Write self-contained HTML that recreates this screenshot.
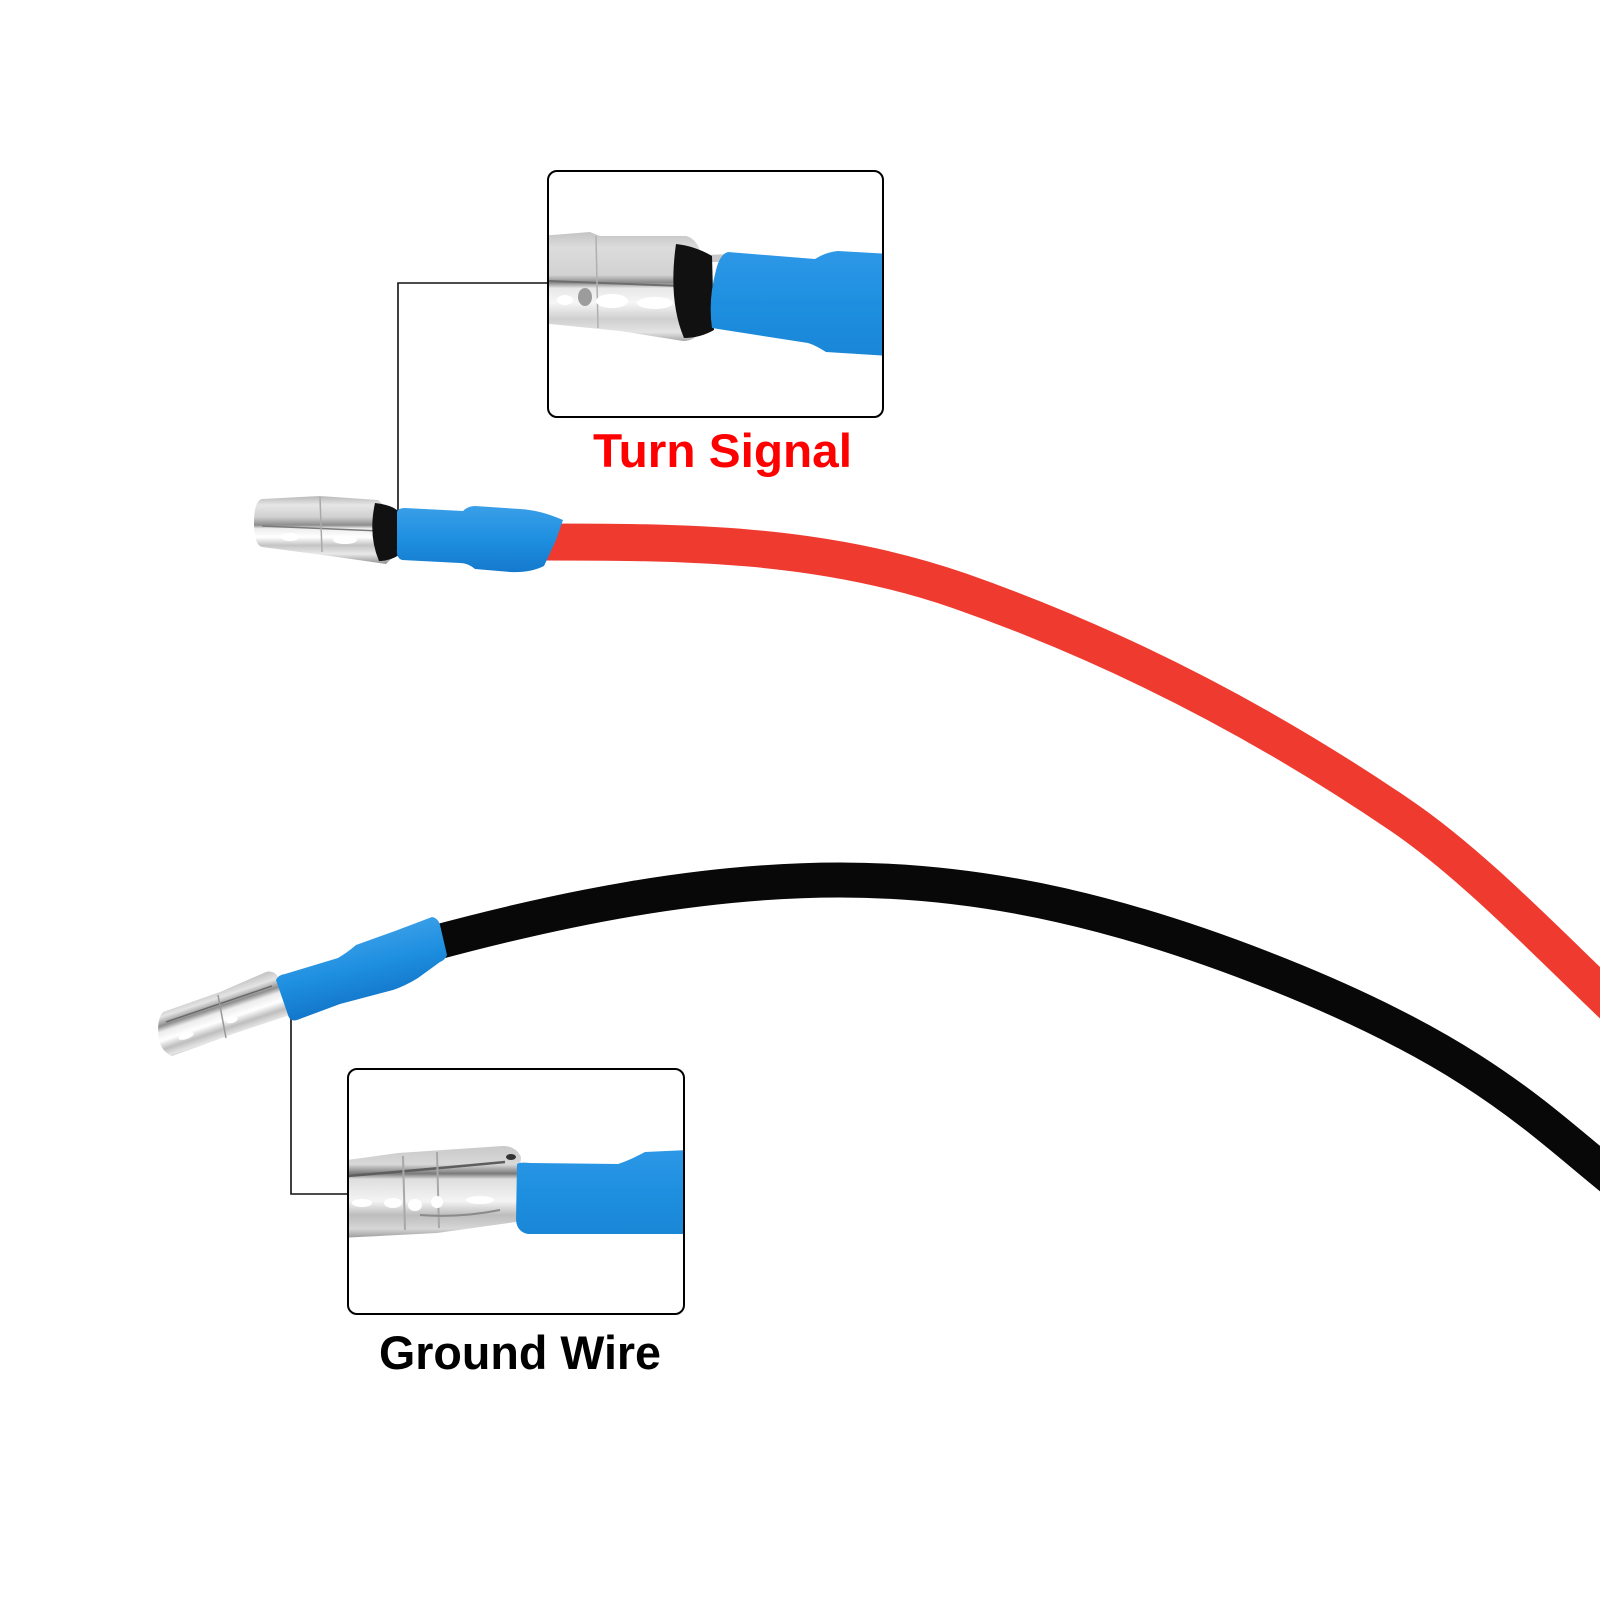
<!DOCTYPE html>
<html>
<head>
<meta charset="utf-8">
<style>
html,body{margin:0;padding:0;background:#fff;width:1600px;height:1600px;overflow:hidden}
svg{display:block}
</style>
</head>
<body>
<svg width="1600" height="1600" viewBox="0 0 1600 1600" xmlns="http://www.w3.org/2000/svg">
<defs>
  <linearGradient id="m1" gradientUnits="userSpaceOnUse" x1="0" y1="497" x2="0" y2="564">
    <stop offset="0" stop-color="#bdbdbd"/>
    <stop offset="0.12" stop-color="#e6e6e6"/>
    <stop offset="0.3" stop-color="#d0d0d0"/>
    <stop offset="0.42" stop-color="#8c8c8c"/>
    <stop offset="0.47" stop-color="#ededed"/>
    <stop offset="0.6" stop-color="#ffffff"/>
    <stop offset="0.72" stop-color="#c4c4c4"/>
    <stop offset="0.85" stop-color="#e9e9e9"/>
    <stop offset="1" stop-color="#8f8f8f"/>
  </linearGradient>
  <linearGradient id="b1" gradientUnits="userSpaceOnUse" x1="0" y1="506" x2="0" y2="573">
    <stop offset="0" stop-color="#3a9fe8"/>
    <stop offset="0.5" stop-color="#1e8fe0"/>
    <stop offset="1" stop-color="#1479cc"/>
  </linearGradient>
  <linearGradient id="m2" gradientUnits="userSpaceOnUse" x1="0" y1="231" x2="0" y2="341">
    <stop offset="0" stop-color="#c2c2c2"/>
    <stop offset="0.15" stop-color="#dcdcdc"/>
    <stop offset="0.4" stop-color="#d2d2d2"/>
    <stop offset="0.47" stop-color="#8a8a8a"/>
    <stop offset="0.52" stop-color="#e8e8e8"/>
    <stop offset="0.65" stop-color="#f6f6f6"/>
    <stop offset="0.8" stop-color="#cfcfcf"/>
    <stop offset="0.92" stop-color="#e4e4e4"/>
    <stop offset="1" stop-color="#a8a8a8"/>
  </linearGradient>
  <linearGradient id="b2" gradientUnits="userSpaceOnUse" x1="0" y1="251" x2="0" y2="356">
    <stop offset="0" stop-color="#2d98e6"/>
    <stop offset="0.5" stop-color="#1e8fe0"/>
    <stop offset="1" stop-color="#1a86d6"/>
  </linearGradient>
  <linearGradient id="m3" gradientUnits="userSpaceOnUse" x1="0" y1="1146" x2="0" y2="1238">
    <stop offset="0" stop-color="#c9c9c9"/>
    <stop offset="0.2" stop-color="#d8d8d8"/>
    <stop offset="0.3" stop-color="#7a7a7a"/>
    <stop offset="0.36" stop-color="#dedede"/>
    <stop offset="0.6" stop-color="#f4f4f4"/>
    <stop offset="0.75" stop-color="#bdbdbd"/>
    <stop offset="0.9" stop-color="#d6d6d6"/>
    <stop offset="1" stop-color="#9a9a9a"/>
  </linearGradient>
  <linearGradient id="b3" gradientUnits="userSpaceOnUse" x1="0" y1="1150" x2="0" y2="1234">
    <stop offset="0" stop-color="#2d98e6"/>
    <stop offset="0.5" stop-color="#1e8fe0"/>
    <stop offset="1" stop-color="#1a86d6"/>
  </linearGradient>
  <linearGradient id="m4" gradientUnits="userSpaceOnUse" x1="212" y1="988" x2="230" y2="1042">
    <stop offset="0" stop-color="#bcbcbc"/>
    <stop offset="0.2" stop-color="#e4e4e4"/>
    <stop offset="0.35" stop-color="#8e8e8e"/>
    <stop offset="0.45" stop-color="#ececec"/>
    <stop offset="0.6" stop-color="#ffffff"/>
    <stop offset="0.75" stop-color="#bebebe"/>
    <stop offset="0.88" stop-color="#e6e6e6"/>
    <stop offset="1" stop-color="#8a8a8a"/>
  </linearGradient>
  <linearGradient id="b4" gradientUnits="userSpaceOnUse" x1="350" y1="935" x2="366" y2="1000">
    <stop offset="0" stop-color="#3a9fe8"/>
    <stop offset="0.5" stop-color="#1e8fe0"/>
    <stop offset="1" stop-color="#1479cc"/>
  </linearGradient>
  <clipPath id="c1"><rect x="549" y="172" width="333" height="244" rx="8"/></clipPath>
  <clipPath id="c2"><rect x="349" y="1070" width="334" height="243" rx="8"/></clipPath>
</defs>

<!-- Red wire -->
<path d="M 540,542 C 680,542 820,542 960,591 C 1107,642.5 1253,715 1400,815 C 1473,864.6 1547,942.6 1620,1012"
  fill="none" stroke="#ef3a2f" stroke-width="37" stroke-linejoin="round"/>

<!-- Black wire -->
<path d="M 430,944 C 560,908.9 700,880 840,880 C 990,880 1130,915 1280,975 C 1480,1055 1540,1121 1620,1185"
  fill="none" stroke="#080808" stroke-width="35" stroke-linejoin="round"/>

<!-- Top connector (turn signal) -->
<polyline points="398,512 398,283 548,283" fill="none" stroke="#111" stroke-width="1.6"/>
<path d="M 262,499 L 320,496 L 378,500 L 392,512 L 392,558 L 386,564 L 330,556 L 262,547 Q 254,545 254,523 Q 254,501 262,499 Z" fill="url(#m1)"/>
<path d="M 262,526 L 380,531" stroke="#7a7a7a" stroke-width="1.5" fill="none"/>
<path d="M 320,497 L 322,552" stroke="#aaa" stroke-width="1.5" fill="none"/>
<ellipse cx="290" cy="537" rx="9" ry="4" fill="#fff"/>
<ellipse cx="345" cy="540" rx="12" ry="4" fill="#fff"/>
<path d="M 375,503 Q 393,505 399,512 L 399,555 Q 390,561 379,561 Q 368,535 375,503 Z" fill="#111"/>
<path d="M 397,512 Q 398,508 405,508 L 463,511 Q 468,506 475,506 L 520,509 Q 540,510 563,520 L 556,540 L 544,566 Q 530,573 510,572 L 475,569 Q 468,563 460,563 L 402,560 Q 396,558 397,550 Z" fill="url(#b1)"/>

<!-- Bottom connector (ground) -->
<polyline points="291,1018 291,1194 348,1194" fill="none" stroke="#111" stroke-width="1.6"/>
<path d="M 163,1012 L 220,992 L 266,972 Q 274,970 278,977 L 290,1015 L 230,1035 L 172,1056 Q 162,1052 159,1040 Q 156,1020 163,1012 Z" fill="url(#m4)"/>
<path d="M 166,1022 L 272,986" stroke="#6a6a6a" stroke-width="1.5" fill="none"/>
<path d="M 218,995 L 226,1038" stroke="#999" stroke-width="1.5" fill="none"/>
<ellipse cx="232" cy="1020" rx="6" ry="3" fill="#fff" transform="rotate(-18 232 1020)"/>
<ellipse cx="186" cy="1036" rx="8" ry="3" fill="#fff" transform="rotate(-18 186 1036)"/>
<path d="M 276,980 Q 278,975 285,974 L 338,958 Q 348,952 356,945 L 395,931 L 432,917 Q 438,918 440,925 L 447,955 Q 445,960 440,962 L 418,978 Q 405,986 393,990 L 340,1004 L 297,1020 Q 290,1022 288,1015 Z" fill="url(#b4)"/>

<!-- Top zoom box -->
<g clip-path="url(#c1)">
  <path d="M 540,236 L 590,232 L 600,236 L 686,236 Q 695,238 700,250 L 702,330 Q 695,341 683,341 L 620,331 L 540,323 Z" fill="url(#m2)"/>
  <path d="M 548,281 L 682,286" stroke="#6e6e6e" stroke-width="2" fill="none"/>
  <path d="M 596,236 L 598,328" stroke="#b0b0b0" stroke-width="1.5" fill="none"/>
  <ellipse cx="612" cy="301" rx="16" ry="7" fill="#fff"/>
  <ellipse cx="655" cy="303" rx="18" ry="6" fill="#fff"/>
  <ellipse cx="585" cy="297" rx="7" ry="9" fill="#9c9c9c"/>
  <ellipse cx="565" cy="300" rx="8" ry="5" fill="#fff"/>
  <path d="M 705,255 L 732,254 L 730,262 L 706,262 Z" fill="#c8c8c8"/>
  <path d="M 676,244 Q 695,246 712,256 L 714,330 Q 700,338 684,338 Q 668,300 676,244 Z" fill="#111"/>
  <path d="M 728,252 L 815,259 Q 826,252 838,251 L 890,254 L 890,356 L 826,352 Q 815,345 808,343 L 712,328 Q 708,300 716,270 Q 720,254 728,252 Z" fill="url(#b2)"/>
</g>
<rect x="548" y="171" width="335" height="246" rx="9" fill="none" stroke="#000" stroke-width="2"/>

<!-- Bottom zoom box -->
<g clip-path="url(#c2)">
  <path d="M 340,1161 L 398,1153 L 503,1146 Q 516,1146 521,1157 L 516,1222 L 437,1233 L 340,1238 Z" fill="url(#m3)"/>
  <path d="M 348,1176 Q 420,1170 505,1162" stroke="#5e5e5e" stroke-width="2.5" fill="none"/>
  <path d="M 403,1156 L 405,1230" stroke="#a8a8a8" stroke-width="2" fill="none"/>
  <path d="M 437,1152 L 439,1228" stroke="#a8a8a8" stroke-width="2" fill="none"/>
  <ellipse cx="362" cy="1203" rx="10" ry="4" fill="#fff"/>
  <ellipse cx="393" cy="1203" rx="9" ry="5" fill="#fff"/>
  <ellipse cx="415" cy="1205" rx="7" ry="6" fill="#fff"/>
  <ellipse cx="437" cy="1202" rx="6" ry="6" fill="#fff"/>
  <ellipse cx="480" cy="1200" rx="14" ry="4" fill="#fff"/>
  <path d="M 420,1215 Q 460,1218 500,1210" stroke="#8a8a8a" stroke-width="2" fill="none"/>
  <ellipse cx="511" cy="1157" rx="5" ry="3" fill="#333"/>
  <path d="M 517,1164 Q 520,1162 530,1163 L 618,1164 Q 630,1160 645,1152 L 690,1150 L 690,1234 L 528,1234 Q 517,1232 516,1220 Z" fill="url(#b3)"/>
</g>
<rect x="348" y="1069" width="336" height="245" rx="9" fill="none" stroke="#000" stroke-width="2"/>

<!-- Labels -->
<text x="593" y="467" font-family="'Liberation Sans', sans-serif" font-weight="bold" font-size="47" fill="#ff0000" textLength="259" lengthAdjust="spacingAndGlyphs">Turn Signal</text>
<text x="379" y="1369" font-family="'Liberation Sans', sans-serif" font-weight="bold" font-size="47" fill="#000000" textLength="282" lengthAdjust="spacingAndGlyphs">Ground Wire</text>
</svg>
</body>
</html>
